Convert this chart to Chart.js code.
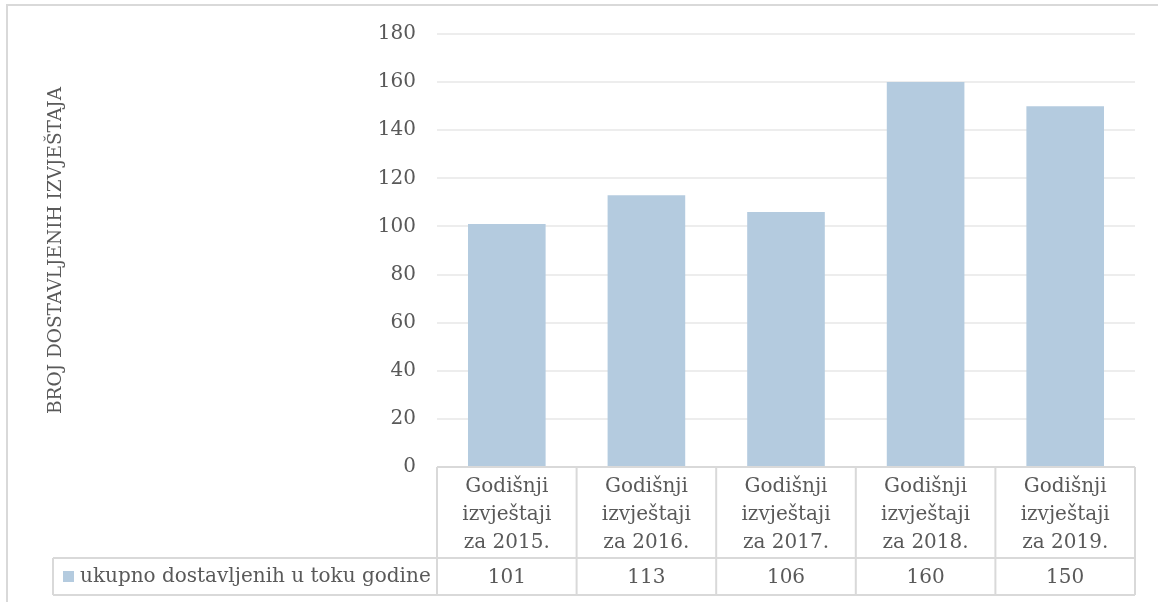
<!DOCTYPE html>
<html>
<head>
<meta charset="utf-8">
<script src="https://cdn.jsdelivr.net/npm/chart.js@4.4.1/dist/chart.umd.min.js"></script>
<style>
  html, body { margin: 0; padding: 0; background: #fff; }
  #wrap { position: relative; width: 1158px; height: 602px; }
</style>
</head>
<body>
<div id="wrap"><canvas id="chart" width="1158" height="602"></canvas></div>
<script>
const categories = [
  ["Godišnji", "izvještaji", "za 2015."],
  ["Godišnji", "izvještaji", "za 2016."],
  ["Godišnji", "izvještaji", "za 2017."],
  ["Godišnji", "izvještaji", "za 2018."],
  ["Godišnji", "izvještaji", "za 2019."]
];
const seriesName = "ukupno dostavljenih u toku godine";
const values = [101, 113, 106, 160, 150];
const yTitle = "BROJ DOSTAVLJENIH IZVJEŠTAJA";

const txt = "#595959";
const line = "#d9d9d9";
const barColor = "#b4cbdf";
const font = "DejaVu Serif";

// frame + data table under the plot (Excel style)
const tablePlugin = {
  id: "dataTable",
  beforeDraw(chart) {
    const ctx = chart.ctx;
    ctx.save();
    ctx.strokeStyle = line;
    ctx.lineWidth = 2;
    ctx.beginPath();
    ctx.moveTo(7, 602); ctx.lineTo(7, 5); ctx.lineTo(1158, 5);
    ctx.stroke();
    ctx.restore();
  },
  afterDraw(chart) {
    const ctx = chart.ctx;
    const x = chart.scales.x;
    const area = chart.chartArea;
    const n = chart.data.labels.length;
    const colW = (area.right - area.left) / n;
    const top = area.bottom;
    const mid = 558;
    const bot = 595;
    const legL = 53;

    ctx.save();
    ctx.strokeStyle = line;
    ctx.lineWidth = 2;
    ctx.beginPath();
    ctx.moveTo(area.left, top); ctx.lineTo(area.right, top);
    ctx.moveTo(legL, mid); ctx.lineTo(area.right, mid);
    ctx.moveTo(legL, bot); ctx.lineTo(area.right, bot);
    ctx.moveTo(legL, mid); ctx.lineTo(legL, bot);
    for (let i = 0; i <= n; i++) {
      const px = area.left + i * colW;
      ctx.moveTo(px, top); ctx.lineTo(px, bot);
    }
    ctx.stroke();

    ctx.fillStyle = txt;
    ctx.font = "20px '" + font + "'";
    ctx.textAlign = "center";
    ctx.textBaseline = "middle";
    chart.data.labels.forEach((lab, i) => {
      const cx = x.getPixelForValue(i);
      lab.forEach((s, j) => ctx.fillText(s, cx, 487 + j * 28));
      ctx.fillText(String(chart.data.datasets[0].data[i]), cx, 578);
    });

    ctx.fillStyle = barColor;
    ctx.fillRect(63, 571, 11, 11);
    ctx.fillStyle = txt;
    ctx.textAlign = "left";
    ctx.fillText(chart.data.datasets[0].label, 80, 577);
    ctx.restore();
  }
};

new Chart(document.getElementById("chart"), {
  type: "bar",
  data: {
    labels: categories,
    datasets: [{
      label: seriesName,
      data: values,
      backgroundColor: barColor,
      categoryPercentage: 1,
      barPercentage: 0.556
    }]
  },
  options: {
    responsive: false,
    animation: false,
    layout: { padding: { left: 8, right: 23, top: 34, bottom: 135 } },
    plugins: { legend: { display: false }, tooltip: { enabled: false } },
    scales: {
      x: { display: false },
      y: {
        min: 0, max: 180,
        afterFit: (s) => { s.width = 429; },
        ticks: { stepSize: 20, padding: 21, color: txt, font: { family: font, size: 20 } },
        grid: { color: "#ededed", lineWidth: 2, drawTicks: false },
        border: { display: false },
        title: {
          display: true, text: yTitle, color: txt,
          font: { family: font, size: 18.5 },
          padding: { top: 37, bottom: 0 }
        }
      }
    }
  },
  plugins: [tablePlugin]
});
</script>
</body>
</html>
